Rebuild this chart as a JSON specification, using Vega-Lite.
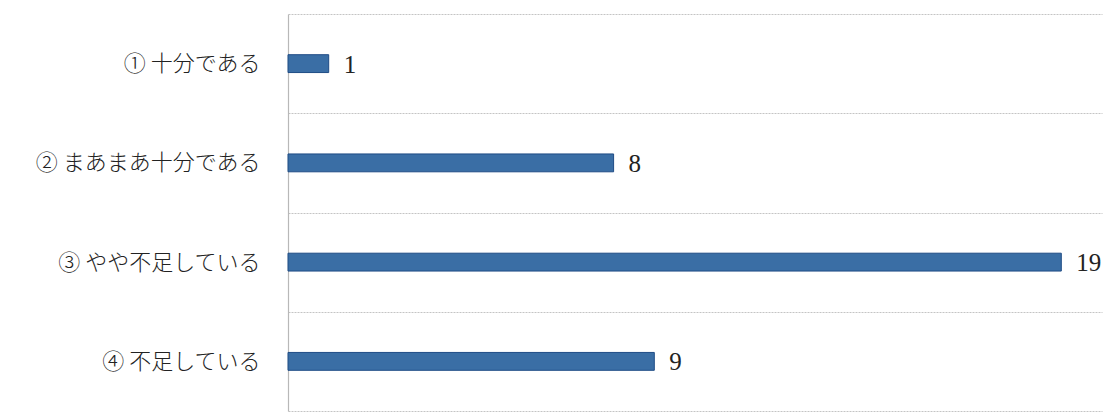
{
  "$schema": "https://vega.github.io/schema/vega-lite/v6.json",
  "width": 814,
  "height": 397,
  "autosize": "none",
  "padding": {"left": 288, "top": 14, "right": 8, "bottom": 2},
  "background": "white",
  "config": {"view": {"stroke": null}},
  "data": {"values": [
    {"category": "① 十分である", "count": 1},
    {"category": "② まあまあ十分である", "count": 8},
    {"category": "③ やや不足している", "count": 19},
    {"category": "④ 不足している", "count": 9}
  ]},
  "encoding": {
    "y": {
      "field": "category", "type": "nominal", "sort": null,
      "scale": {"paddingInner": 0, "paddingOuter": 0},
      "axis": {
        "title": null, "ticks": false, "tickSize": 0, "labelPadding": 28, "labelLimit": 0,
        "labelFont": "Noto Sans CJK JP", "labelFontSize": 22, "labelFontWeight": 300, "labelColor": "#222",
        "domain": true, "domainColor": "#b8b8b8", "domainWidth": 1.2,
        "grid": true, "tickBand": "extent", "gridColor": "#c4c4c4", "gridWidth": 1.2, "gridDash": [2, 1]
      }
    },
    "x": {
      "field": "count", "type": "quantitative",
      "scale": {"domain": [0, 20], "nice": false},
      "axis": null
    }
  },
  "layer": [
    {"mark": {"type": "bar", "height": {"band": 0.18}, "color": "#3a6ea5", "stroke": "#1f4c85", "strokeWidth": 1}},
    {"mark": {"type": "text", "align": "left", "baseline": "middle", "dx": 15, "dy": 1, "font": "Liberation Serif", "fontSize": 25, "color": "#222"},
     "encoding": {"text": {"field": "count", "type": "quantitative"}}}
  ]
}
